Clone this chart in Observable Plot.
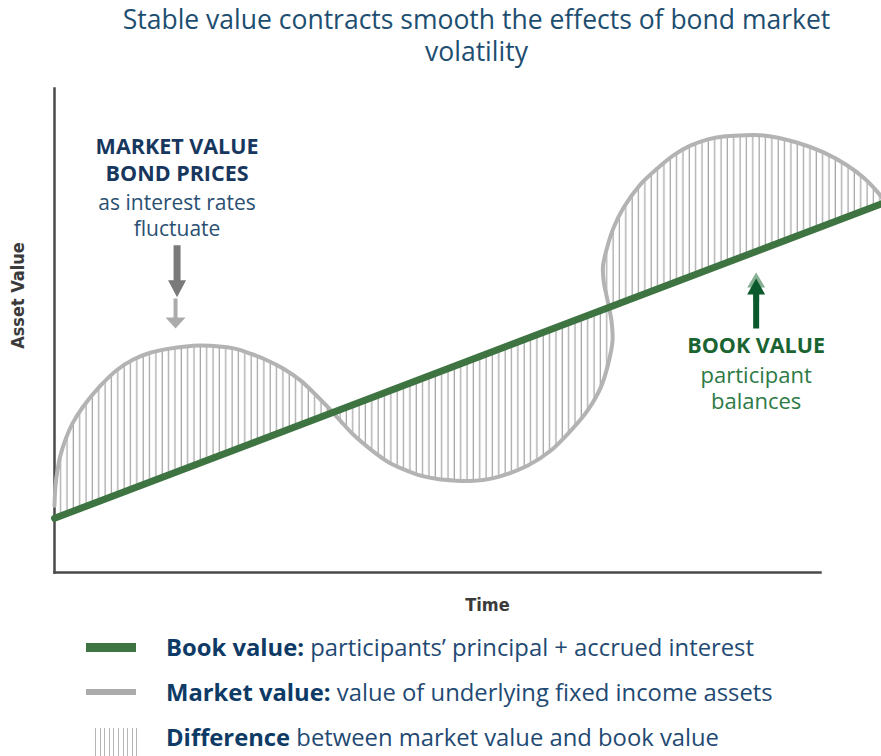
<!DOCTYPE html>
<html>
<head>
<meta charset="utf-8">
<script src="https://cdn.jsdelivr.net/npm/d3@7"></script>
<script src="https://cdn.jsdelivr.net/npm/@observablehq/plot@0.6"></script>
<style>
  html, body { margin: 0; padding: 0; background: #fff; }
  body { width: 881px; height: 756px; overflow: hidden; position: relative; font-family: "Open Sans", sans-serif; }
  #title { position: absolute; left: 72px; width: 809px; top: 3px; text-align: center; font-size: 26.5px; color: #1d4e70; }
  #title div { height: 32px; line-height: 32px; overflow: visible; }
  #title span { line-height: 1; display: inline-block; }
  #chart { position: absolute; left: 0; top: 80px; }
  .lg-row { position: absolute; left: 166px; height: 32px; line-height: 32px; font-size: 23.8px; color: #1f4a73; white-space: nowrap; }
  .lg-row b { color: #0e3a66; font-weight: 700; }
  .sw { position: absolute; }
</style>
</head>
<body>
<div id="title"></div>
<div id="chart"></div>
<div id="legend"></div>
<script>
// ---- data (abstract units: time 0..100 along the drawn axis, value 0..100 up the axis)
const marketTime  = [0, 0.13, 0.39, 0.78, 1.44, 2.35, 3.66, 6.0, 8.2, 10.3, 12.5, 14.8, 17.8, 19.1, 23.4, 25.6, 27.8, 29.9, 32.1, 33.8, 35.6, 37.3, 39.0, 41.3, 43.5, 45.6, 47.8, 50.0, 52.1, 54.3, 57.3, 61.8, 64.8, 67.4, 69.6, 71.3, 72.3, 72.85, 72.7, 72.2, 71.7, 71.6, 72.1, 73.0, 74.3, 76.5, 78.7, 80.8, 83.0, 85.3, 87.3, 89.6, 92.6, 97.0, 100.4, 103.5, 105.6, 107.4, 108.0];
const marketValue = [13.8, 18.0, 21.1, 24.2, 27.5, 30.8, 34.1, 38.6, 41.9, 44.0, 45.4, 46.2, 46.8, 46.9, 46.3, 45.2, 43.8, 42.1, 39.7, 37.2, 34.3, 31.4, 28.5, 25.4, 22.9, 21.3, 20.0, 19.3, 19.0, 18.9, 19.5, 22.1, 25.2, 29.3, 33.5, 38.2, 43.2, 47.9, 52.1, 56.2, 60.1, 63.2, 66.9, 71.3, 75.4, 80.2, 83.5, 86.2, 88.2, 89.5, 90.1, 90.3, 90.3, 88.8, 86.8, 84.1, 81.6, 78.7, 77.5];
const bookTime  = [0, 108];
const bookValue = [11.2, 76.2];

const titleLines = ["Stable value contracts smooth the effects of bond market", "volatility"];
const axisLabels = {x: "Time", y: "Asset Value"};
const marketNoteBold = ["MARKET VALUE", "BOND PRICES"];
const marketNote = ["as interest rates", "fluctuate"];
const bookNoteBold = ["BOOK VALUE"];
const bookNote = ["participant", "balances"];
const legendItems = [
  {bold: "Book value:", text: " participants’ principal + accrued interest"},
  {bold: "Market value:", text: " value of underlying fixed income assets"},
  {bold: "Difference", text: " between market value and book value"}
];

// ---- derived tables
const market = marketTime.map((t, i) => ({t, v: marketValue[i]}));
const book = bookTime.map((t, i) => ({t, v: bookValue[i]}));
const diffPolygon = market.concat(book.slice().reverse());

// ---- title
document.getElementById("title").innerHTML = titleLines.map(s => `<div><span>${s}</span></div>`).join("");

// filled arrow shape for Plot.vector (drawn pointing up)
function arrowShape(shaftW, headW, headL) {
  return {
    draw(ctx, l) {
      const s = shaftW / 2, h = headW / 2, b = -(l - headL);
      ctx.moveTo(-s, 0);
      ctx.lineTo(-s, b);
      ctx.lineTo(-h, b);
      ctx.lineTo(0, -l);
      ctx.lineTo(h, b);
      ctx.lineTo(s, b);
      ctx.lineTo(s, 0);
      ctx.closePath();
    }
  };
}

function hatchDefs() {
  const defs = d3.create("svg:defs");
  const p = defs.append("pattern")
    .attr("id", "hatch")
    .attr("patternUnits", "userSpaceOnUse")
    .attr("width", 6.35)
    .attr("height", 20);
  p.append("line")
    .attr("x1", 3).attr("x2", 3).attr("y1", 0).attr("y2", 20)
    .attr("stroke", "#a6a6a6").attr("stroke-width", 1.25);
  return defs.node();
}

const labelFont = "Liberation Sans Narrow, DejaVu Sans Condensed, Roboto, sans-serif";

const plot = Plot.plot({
  width: 881,
  height: 545,
  marginLeft: 54,
  marginRight: 61,
  marginTop: 8,
  marginBottom: 53,
  x: {domain: [0, 100], axis: null},
  y: {domain: [0, 100], axis: null},
  style: {fontFamily: "Open Sans, sans-serif", background: "#fff"},
  marks: [
    hatchDefs,
    Plot.line(diffPolygon, {x: "t", y: "v", fill: "url(#hatch)", stroke: "none", curve: "linear"}),
    Plot.frame({anchor: "left", stroke: "#4a4a4a", strokeWidth: 2.5}),
    Plot.frame({anchor: "bottom", stroke: "#4a4a4a", strokeWidth: 2.5}),
    Plot.line(market, {x: "t", y: "v", stroke: "#b3b3b3", strokeWidth: 4, curve: "catmull-rom"}),
    Plot.line(book, {x: "t", y: "v", stroke: "#3e7441", strokeWidth: 7}),
    // axis labels
    Plot.text([axisLabels.y], {frameAnchor: "left", textAnchor: "middle", lineAnchor: "middle", rotate: -90, dx: -36, dy: -35, fontFamily: labelFont, fontWeight: "bold", fontSize: 18, fill: "#3a3a3a"}),
    Plot.text([axisLabels.x], {frameAnchor: "bottom", textAnchor: "middle", lineAnchor: "middle", dx: 50, dy: 33, fontFamily: labelFont, fontWeight: "bold", fontSize: 18, fill: "#3a3a3a"}),
    // market value annotation
    Plot.text([marketNoteBold.join("\n")], {x: 16, y: 85.4, fontSize: 21.5, fontWeight: "bold", lineHeight: 1.26, fill: "#17375e"}),
    Plot.text([marketNote.join("\n")], {x: 16, y: 74.0, fontSize: 21, lineHeight: 1.24, fill: "#2a4f72"}),
    Plot.vector([0], {x: 16, y: 67.6, length: 52, rotate: 180, anchor: "start", shape: arrowShape(7, 18, 17), fill: "#7a7a7a", stroke: "none"}),
    Plot.vector([0], {x: 15.8, y: 56.6, length: 30, rotate: 180, anchor: "start", shape: arrowShape(4, 20, 11), fill: "#ababab", stroke: "none"}),
    // book value annotation
    Plot.vector([0], {x: 91.6, y: 56.0, length: 29, rotate: 0, anchor: "start", shape: arrowShape(6, 18, 15), fill: "#86b093", stroke: "none"}),
    Plot.vector([0], {x: 91.6, y: 50.4, length: 50, rotate: 0, anchor: "start", shape: arrowShape(6, 18, 16), fill: "#0b5a2d", stroke: "none"}),
    Plot.text([bookNoteBold.join("\n")], {x: 91.6, y: 46.7, fontSize: 21.5, fontWeight: "bold", fill: "#1a6432"}),
    Plot.text([bookNote.join("\n")], {x: 91.6, y: 38.2, fontSize: 22, lineHeight: 1.18, fill: "#2d7a45"})
  ]
});
document.getElementById("chart").appendChild(plot);

// ---- legend
const legend = document.getElementById("legend");
const rowCenters = [647, 692, 737];
legendItems.forEach((d, i) => {
  const row = document.createElement("div");
  row.className = "lg-row";
  row.style.top = (rowCenters[i] - 16) + "px";
  row.innerHTML = `<b>${d.bold}</b>${d.text}`;
  legend.appendChild(row);
});
const sw1 = document.createElement("div");
sw1.className = "sw";
Object.assign(sw1.style, {left: "86px", top: "643px", width: "50px", height: "9px", background: "#3e7441"});
const sw2 = document.createElement("div");
sw2.className = "sw";
Object.assign(sw2.style, {left: "86px", top: "689px", width: "50px", height: "6px", background: "#ababab"});
const sw3 = document.createElement("div");
sw3.className = "sw";
Object.assign(sw3.style, {left: "95px", top: "728px", width: "42px", height: "28px", background: "repeating-linear-gradient(to right, #b5b5b5 0px, #b5b5b5 1px, transparent 1px, transparent 4.6px)"});
legend.append(sw1, sw2, sw3);
</script>
</body>
</html>
